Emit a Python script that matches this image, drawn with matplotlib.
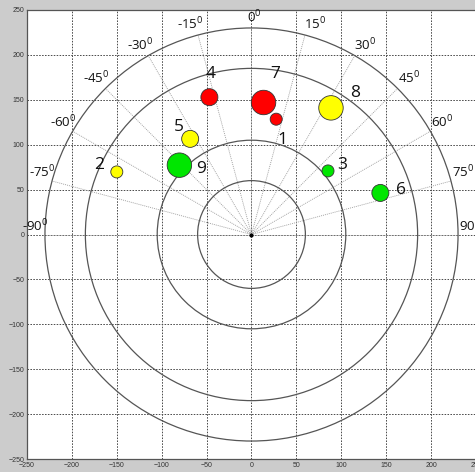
import numpy as np
import matplotlib
matplotlib.use("Agg")
import matplotlib.pyplot as plt
from matplotlib.patches import Circle

# ---- data ----
labels = ['1', '2', '3', '4', '5', '6', '7', '8', '9']
x_vals = [27.5, -150.0, 85.2, -46.9, -68.3, 143.5, 13.4, 88.5, -80.3]
y_vals = [128.4, 69.7, 70.8, 152.9, 106.5, 46.3, 147.0, 141.0, 77.2]
colors = ['#ff0000', '#ffff00', '#00e600', '#ff0000', '#ffff00', '#00e600',
          '#ff0000', '#ffff00', '#00e600']
sizes = [75, 75, 75, 150, 150, 150, 310, 310, 310]
ring_radii = [60, 105, 185, 230]
spoke_angles = list(range(-90, 91, 15))
ticks = list(range(-250, 251, 50))

# label offsets (points) relative to bubbles
label_offsets = [(4.5, -15), (-13, 5), (10, 4.6), (1, 16.6), (-8.4, 8.6),
                 (15, 2), (8.4, 20.4), (17.5, 10.8), (15.4, -2.9)]

plt.rcParams['mathtext.default'] = 'regular'

fig = plt.figure(figsize=(4.75, 4.72), dpi=100, facecolor='#cccccc')
ax = fig.add_axes([27 / 475, 13 / 472, 449 / 475, 449 / 472])
ax.set_facecolor('white')
ax.set_xlim(-250, 250)
ax.set_ylim(-250, 250)
ax.set_xticks(ticks)
ax.set_yticks(ticks)
ax.tick_params(length=0, labelsize=5, labelcolor='#333333', pad=2)
for lab in ax.get_xticklabels() + ax.get_yticklabels():
    lab.set_family('Liberation Sans')
ax.grid(True, color='#4a4a4a', linestyle=(0, (1.6, 1.4)), linewidth=0.7)
ax.set_axisbelow(True)
for s in ax.spines.values():
    s.set_color('#555555')
    s.set_linewidth(0.9)

# spokes
R = ring_radii[-1]
for a in spoke_angles:
    t = np.deg2rad(a)
    ax.plot([0, R * np.sin(t)], [0, R * np.cos(t)], color='#9a9a9a',
            linestyle=(0, (1.2, 1.2)), linewidth=0.6, zorder=1)

# rings
for r in ring_radii:
    ax.add_patch(Circle((0, 0), r, fill=False, edgecolor='#555555',
                        linewidth=0.9, zorder=2))

# angle labels
RL = 233
for a in spoke_angles:
    t = np.deg2rad(a)
    xp, yp = RL * np.sin(t), RL * np.cos(t)
    if a > 0:
        ha = 'left'
        xp -= 2
    elif a < 0:
        ha = 'right'
        xp += 7
    else:
        ha = 'center'
        xp += 3
    ax.text(xp, yp, f'{a}$^0$', ha=ha, va='bottom', fontsize=9.5,
            family='Open Sans', color='#111111', zorder=3)

# center point
ax.plot([0], [0], marker='.', color='black', markersize=4, zorder=5)

# bubbles
ax.scatter(x_vals, y_vals, s=sizes, c=colors, edgecolors='#333333',
           linewidths=0.6, zorder=6)
for lab, xv, yv, off in zip(labels, x_vals, y_vals, label_offsets):
    ax.annotate(lab, (xv, yv), xytext=off, textcoords='offset points',
                ha='center', va='center', fontsize=12.5, family='Open Sans',
                color='#111111', zorder=7)

fig.savefig('out.png', dpi=100, facecolor=fig.get_facecolor())
